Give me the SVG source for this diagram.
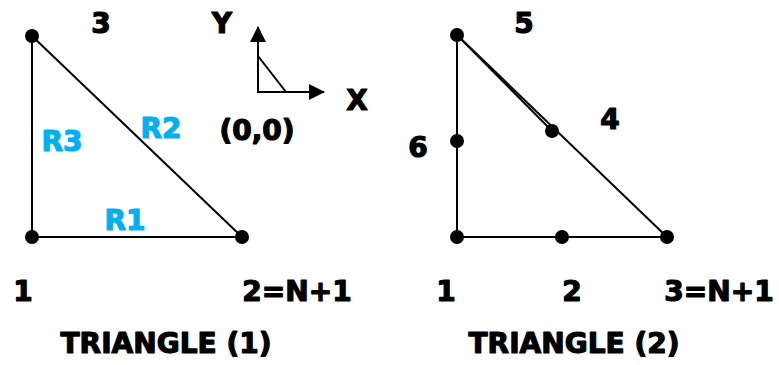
<svg xmlns="http://www.w3.org/2000/svg" width="779" height="365" viewBox="0 0 779 365">
<defs>
<style>
.lbl{font-family:"DejaVu Sans","Liberation Sans",sans-serif;font-weight:bold;font-size:28px;fill:#000;stroke:#000;stroke-width:1.2;stroke-linejoin:round;text-anchor:middle}
.blue{fill:#00B0F0;stroke:#00B0F0}
.edge{stroke:#000;stroke-width:2;fill:none}
.dot{fill:#000}
</style>
<marker id="arr" viewBox="0 0 16 16" refX="15" refY="8" markerWidth="16" markerHeight="16" markerUnits="userSpaceOnUse" orient="auto">
<path d="M0,0 L16,8 L0,16 Z" fill="#000"/>
</marker>
</defs>
<rect width="779" height="365" fill="#fff"/>
<g id="connectors">
<line class="edge" x1="32" y1="36" x2="32" y2="237"/>
<line class="edge" x1="32" y1="237" x2="242" y2="237"/>
<line class="edge" x1="32" y1="36" x2="242" y2="237"/>
<line class="edge" x1="457" y1="35" x2="457" y2="237"/>
<line class="edge" x1="457" y1="237" x2="667" y2="237"/>
<line class="edge" x1="457" y1="35" x2="667" y2="237"/>
<line class="edge" x1="457" y1="35" x2="552" y2="131"/>
</g>
<g id="axes">
<line class="edge" x1="258" y1="92" x2="258" y2="27" marker-end="url(#arr)"/>
<line class="edge" x1="257" y1="92" x2="324" y2="92" marker-end="url(#arr)"/>
<line class="edge" x1="258" y1="56" x2="286" y2="92"/>
<text class="lbl" x="222" y="33">Y</text>
<text class="lbl" x="357" y="110">X</text>
<text class="lbl" x="257" y="140">(0,0)</text>
</g>
<g id="t1-node1"><circle class="dot" cx="32" cy="237" r="7"/><text class="lbl" x="23" y="301">1</text></g>
<g id="t1-node2"><circle class="dot" cx="242" cy="237" r="7"/><text class="lbl" x="297" y="301">2=N+1</text></g>
<g id="t1-node3"><circle class="dot" cx="32" cy="36" r="7"/><text class="lbl" x="101" y="33">3</text></g>
<g id="t1-regions">
<text class="lbl blue" x="62" y="151">R3</text>
<text class="lbl blue" x="161" y="138">R2</text>
<text class="lbl blue" x="125" y="230">R1</text>
</g>
<g id="t2-node1"><circle class="dot" cx="457" cy="237" r="7"/><text class="lbl" x="446" y="301">1</text></g>
<g id="t2-node2"><circle class="dot" cx="562" cy="237" r="7"/><text class="lbl" x="572" y="301">2</text></g>
<g id="t2-node3"><circle class="dot" cx="667" cy="237" r="7"/><text class="lbl" x="719" y="301">3=N+1</text></g>
<g id="t2-node4"><circle class="dot" cx="552" cy="131" r="7"/><text class="lbl" x="610" y="129">4</text></g>
<g id="t2-node5"><circle class="dot" cx="457" cy="35" r="7"/><text class="lbl" x="524" y="33">5</text></g>
<g id="t2-node6"><circle class="dot" cx="457" cy="141" r="7"/><text class="lbl" x="418" y="157">6</text></g>
<text class="lbl" x="166" y="353">TRIANGLE (1)</text>
<text class="lbl" x="574" y="353">TRIANGLE (2)</text>
</svg>
